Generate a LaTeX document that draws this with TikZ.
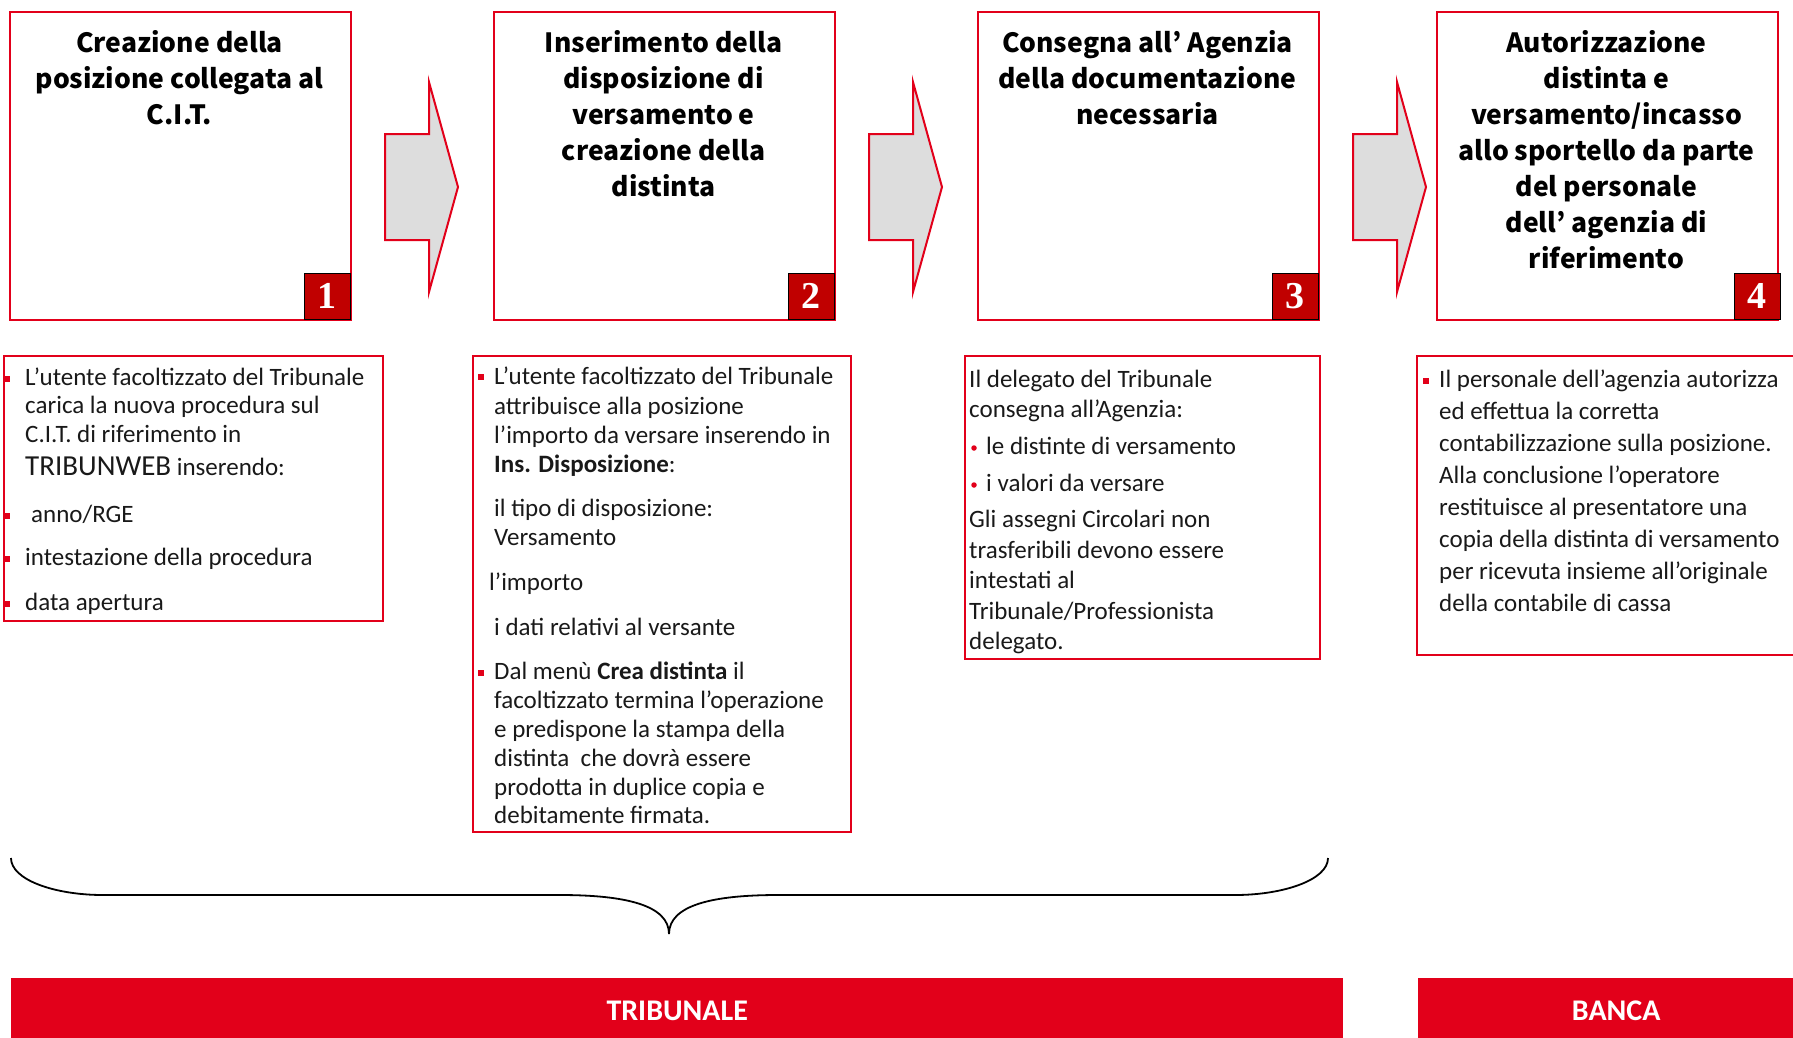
\documentclass[tikz,border=0pt]{standalone}
\usepackage{fontspec}
\setmainfont{Carlito}
\newfontfamily\titlefont{Noto Sans CJK JP}
\newfontfamily\numfont{Liberation Serif}
\definecolor{ured}{HTML}{E2001A}
\definecolor{numred}{HTML}{C00000}
\definecolor{arrowgray}{HTML}{DDDDDD}
\tikzset{
  topbox/.style={draw=ured, line width=2pt, minimum width=341pt, minimum height=308pt, anchor=north west, inner sep=0pt},
  lowbox/.style={draw=ured, line width=2pt, anchor=north west, inner sep=0pt},
  numbox/.style={draw=black, line width=1.5pt, fill=numred, text=white, minimum size=46pt, inner sep=0pt, anchor=south east, font=\numfont\bfseries\fontsize{38}{38}\selectfont},
  ttl/.style={anchor=base, inner sep=0pt, font=\titlefont\bfseries\fontsize{26.5}{36}\selectfont},
  ln/.style={anchor=base west, inner sep=0pt, font=\fontsize{25}{30}\selectfont, text=black!90},
  sq/.style={fill=ured, minimum size=5.5pt, inner sep=0pt},
  rdot/.style={circle, fill=ured, minimum size=5.5pt, inner sep=0pt},
  arrowshape/.style={draw=ured, fill=arrowgray, line width=2pt, line join=miter},
  bar/.style={fill=ured, inner sep=0pt, anchor=north west, text=white, font=\bfseries\fontsize{30}{30}\selectfont},
  bracestyle/.style={draw=black, line width=1.8pt},
  blockarrow/.pic={\path[arrowshape] (0,134) -- (44,134) -- (44,82) -- (73,187) -- (44,292) -- (44,240) -- (0,240) -- cycle;}
}
\begin{document}
\begin{tikzpicture}[x=1pt,y=-1pt]
\useasboundingbox (0,0) rectangle (1793,1037);
\clip (0,0) rectangle (1793,1037);

% top boxes
\node[topbox] (b1) at (9,11) {};
\node[topbox] (b2) at (493,11) {};
\node[topbox] (b3) at (977,11) {};
\node[topbox] (b4) at (1436,11) {};

\node[numbox] (n1) at ([xshift=-1pt,yshift=1pt]b1.south east) {1};
\node[numbox] (n2) at ([xshift=-1pt,yshift=1pt]b2.south east) {2};
\node[numbox] (n3) at ([xshift=-1pt,yshift=1pt]b3.south east) {3};
\node[numbox] (n4) at ([xshift=2pt,yshift=1pt]b4.south east) {4};

% titles
\node[ttl] (t11) at (179.5,52) {Creazione della};
\node[ttl] (t12) at (179.5,88) {posizione collegata al};
\node[ttl] (t13) at (179.5,124) {C.I.T.};

\node[ttl] (t21) at (663.5,52) {Inserimento della};
\node[ttl] (t22) at (663.5,88) {disposizione di};
\node[ttl] (t23) at (663.5,124) {versamento e};
\node[ttl] (t24) at (663.5,160) {creazione della};
\node[ttl] (t25) at (663.5,196) {distinta};

\node[ttl] (t31) at (1147.5,52) {Consegna all’ Agenzia};
\node[ttl] (t32) at (1147.5,88) {della documentazione};
\node[ttl] (t33) at (1147.5,124) {necessaria};

\node[ttl] (t41) at (1606.5,52) {Autorizzazione};
\node[ttl] (t42) at (1606.5,88) {distinta e};
\node[ttl] (t43) at (1606.5,124) {versamento/incasso};
\node[ttl] (t44) at (1606.5,160) {allo sportello da parte};
\node[ttl] (t45) at (1606.5,196) {del personale};
\node[ttl] (t46) at (1606.5,232) {dell’ agenzia di};
\node[ttl] (t47) at (1606.5,268) {riferimento};

% block arrows
\pic at (385,0) {blockarrow};
\pic at (869,0) {blockarrow};
\pic at (1353,0) {blockarrow};

% lower boxes
\node[lowbox, minimum width=379pt, minimum height=265pt] (la) at (3,355) {};
\node[lowbox, minimum width=378pt, minimum height=476pt] (lb) at (472,355) {};
\node[lowbox, minimum width=355pt, minimum height=303pt] (lc) at (964,355) {};
\node[lowbox, minimum width=400pt, minimum height=299pt] (ld) at (1416,355) {};

% box A text
\node[sq] (sa1) at (7,379) {};
\node[ln] (a1) at (25,385) {L’utente facoltizzato del Tribunale};
\node[ln] (a2) at (25,413) {carica la nuova procedura sul};
\node[ln] (a3) at (25,442) {C.I.T. di riferimento in};
\node[ln] (a4) at (25,475) {{\fontsize{29}{30}\selectfont TRIBUNWEB} inserendo:};
\node[sq] (sa5) at (7,516) {};
\node[ln] (a5) at (31,522) {anno/RGE};
\node[sq] (sa6) at (7,559) {};
\node[ln] (a6) at (25,565) {intestazione della procedura};
\node[sq] (sa7) at (7,604) {};
\node[ln] (a7) at (25,610) {data apertura};

% box B text
\node[sq] (sb1) at (481,377) {};
\node[ln] (bl1) at (494,384) {L’utente facoltizzato del Tribunale};
\node[ln] (bl2) at (494,414) {attribuisce alla posizione};
\node[ln] (bl3) at (494,443) {l’importo da versare inserendo in};
\node[ln] (bl4) at (494,472) {{\bfseries Ins. Disposizione}:};
\node[ln] (bl5) at (494,516) {il tipo di disposizione:};
\node[ln] (bl6) at (494,545) {Versamento};
\node[ln] (bl7) at (489,590) {l’importo};
\node[ln] (bl8) at (494,635) {i dati relativi al versante};
\node[sq] (sb9) at (481,673) {};
\node[ln] (bl9) at (494,679) {Dal menù {\bfseries Crea distinta} il};
\node[ln] (bl10) at (494,708) {facoltizzato termina l’operazione};
\node[ln] (bl11) at (494,737) {e predispone la stampa della};
\node[ln] (bl12) at (494,766) {distinta\ \ che dovrà essere};
\node[ln] (bl13) at (494,795) {prodotta in duplice copia e};
\node[ln] (bl14) at (494,823) {debitamente firmata.};

% box C text
\node[ln] (c1) at (969,387) {Il delegato del Tribunale};
\node[ln] (c2) at (969,417) {consegna all’Agenzia:};
\node[rdot] (dc3) at (974,448) {};
\node[ln] (c3) at (986,454) {le distinte di versamento};
\node[rdot] (dc4) at (974,485) {};
\node[ln] (c4) at (986,491) {i valori da versare};
\node[ln] (c5) at (969,527) {Gli assegni Circolari non};
\node[ln] (c6) at (969,558) {trasferibili devono essere};
\node[ln] (c7) at (969,588) {intestati al};
\node[ln] (c8) at (969,619) {Tribunale/Professionista};
\node[ln] (c9) at (969,649) {delegato.};

% box D text
\node[sq] (sd1) at (1426,381) {};
\node[ln] (d1) at (1439,387) {Il personale dell’agenzia autorizza};
\node[ln] (d2) at (1439,419) {ed effettua la corretta};
\node[ln] (d3) at (1439,451) {contabilizzazione sulla posizione.};
\node[ln] (d4) at (1439,483) {Alla conclusione l’operatore};
\node[ln] (d5) at (1439,515) {restituisce al presentatore una};
\node[ln] (d6) at (1439,547) {copia della distinta di versamento};
\node[ln] (d7) at (1439,579) {per ricevuta insieme all’originale};
\node[ln] (d8) at (1439,611) {della contabile di cassa};

% brace
\path[bracestyle] (11,858) .. controls (11,880) and (55,895) .. (103,895)
  -- (560,895) .. controls (625,895) and (669,905) .. (669,934)
  .. controls (669,905) and (713,895) .. (778,895)
  -- (1235,895) .. controls (1283,895) and (1328,880) .. (1328,858);

% bottom bars
\node[bar, minimum width=1332pt, minimum height=66pt] (trib) at (11,978) {TRIBUNALE};
\node[bar, minimum width=396pt, minimum height=66pt] (banca) at (1418,978) {BANCA};
\end{tikzpicture}
\end{document}
